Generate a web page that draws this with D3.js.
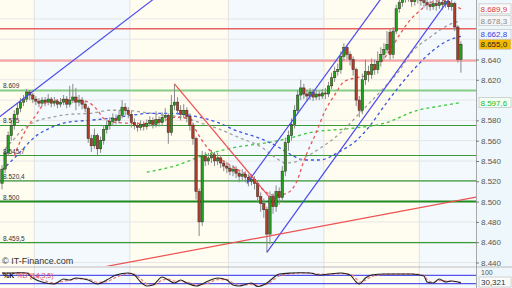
<!DOCTYPE html>
<html><head><meta charset="utf-8">
<script src="https://cdn.jsdelivr.net/npm/d3@7"></script>
<style>html,body{margin:0;padding:0;background:#fff;overflow:hidden}svg{display:block}text{font-family:"Liberation Sans",Arial,sans-serif}</style>
</head><body><svg id="c" width="512" height="288"></svg>
<script>
// ---- candle data (index 0..149) ----
const opens=[8.518,8.532,8.548,8.565,8.575,8.586,8.592,8.598,8.601,8.608,
8.605,8.601,8.599,8.597,8.600,8.598,8.601,8.597,8.599,8.596,
8.598,8.601,8.596,8.600,8.603,8.598,8.600,8.596,8.592,8.562,
8.555,8.565,8.552,8.560,8.571,8.575,8.579,8.582,8.580,8.585,
8.593,8.590,8.586,8.578,8.575,8.573,8.576,8.574,8.577,8.580,
8.576,8.581,8.578,8.583,8.585,8.568,8.595,8.598,8.590,8.586,
8.590,8.584,8.575,8.562,8.510,8.480,8.545,8.540,8.543,8.546,
8.540,8.543,8.538,8.535,8.533,8.530,8.532,8.528,8.525,8.527,
8.524,8.520,8.522,8.518,8.505,8.498,8.492,8.468,8.505,8.495,
8.510,8.504,8.530,8.558,8.565,8.576,8.590,8.605,8.612,8.606,
8.604,8.608,8.603,8.606,8.604,8.607,8.606,8.614,8.622,8.628,
8.630,8.643,8.652,8.645,8.640,8.630,8.600,8.590,8.620,8.628,
8.625,8.635,8.630,8.638,8.645,8.650,8.667,8.645,8.668,8.690,
8.696,8.700,8.704,8.702,8.697,8.699,8.701,8.698,8.696,8.694,
8.692,8.695,8.693,8.696,8.694,8.697,8.692,8.695,8.672,8.640];
const closes=[8.532,8.548,8.565,8.575,8.586,8.592,8.598,8.601,8.608,8.605,
8.601,8.599,8.597,8.600,8.598,8.601,8.597,8.599,8.596,8.598,
8.601,8.596,8.600,8.603,8.598,8.600,8.596,8.592,8.562,8.555,
8.565,8.552,8.560,8.571,8.575,8.579,8.582,8.580,8.585,8.593,
8.590,8.586,8.578,8.575,8.573,8.576,8.574,8.577,8.580,8.576,
8.581,8.578,8.583,8.585,8.568,8.595,8.598,8.590,8.586,8.590,
8.584,8.575,8.562,8.510,8.480,8.545,8.540,8.543,8.546,8.540,
8.543,8.538,8.535,8.533,8.530,8.532,8.528,8.525,8.527,8.524,
8.520,8.522,8.518,8.505,8.498,8.492,8.468,8.505,8.495,8.510,
8.504,8.530,8.558,8.565,8.576,8.590,8.605,8.612,8.606,8.604,
8.608,8.603,8.606,8.604,8.607,8.606,8.614,8.622,8.628,8.630,
8.643,8.652,8.645,8.640,8.630,8.600,8.590,8.620,8.628,8.625,
8.635,8.630,8.638,8.645,8.650,8.655,8.645,8.668,8.690,8.696,
8.700,8.704,8.702,8.697,8.699,8.701,8.698,8.696,8.694,8.692,
8.695,8.693,8.696,8.694,8.697,8.692,8.695,8.672,8.640,8.655];
const highs=[8.536,8.552,8.569,8.580,8.590,8.597,8.602,8.605,8.611,8.610,
8.607,8.604,8.602,8.603,8.603,8.606,8.603,8.603,8.601,8.602,
8.605,8.604,8.614,8.616,8.612,8.605,8.603,8.599,8.594,8.566,
8.572,8.567,8.564,8.575,8.580,8.583,8.587,8.586,8.590,8.600,
8.597,8.593,8.589,8.582,8.578,8.580,8.579,8.581,8.584,8.583,
8.589,8.584,8.588,8.592,8.587,8.605,8.616,8.603,8.595,8.596,
8.593,8.587,8.578,8.564,8.513,8.550,8.549,8.548,8.551,8.549,
8.548,8.546,8.541,8.539,8.536,8.536,8.535,8.531,8.532,8.530,
8.527,8.527,8.525,8.521,8.509,8.503,8.495,8.510,8.508,8.516,
8.514,8.535,8.563,8.570,8.582,8.595,8.610,8.620,8.616,8.610,
8.612,8.611,8.610,8.609,8.611,8.612,8.618,8.627,8.633,8.636,
8.648,8.656,8.654,8.648,8.643,8.632,8.604,8.626,8.640,8.634,
8.641,8.640,8.648,8.652,8.656,8.668,8.670,8.672,8.694,8.702,
8.706,8.709,8.708,8.705,8.704,8.706,8.704,8.702,8.700,8.698,
8.700,8.699,8.701,8.700,8.702,8.700,8.699,8.697,8.674,8.658];
const lows=[8.512,8.528,8.545,8.560,8.571,8.582,8.588,8.594,8.598,8.600,
8.597,8.595,8.593,8.594,8.594,8.595,8.593,8.594,8.592,8.593,
8.595,8.592,8.593,8.597,8.590,8.594,8.591,8.588,8.558,8.549,
8.552,8.546,8.548,8.556,8.567,8.571,8.575,8.576,8.577,8.582,
8.585,8.582,8.573,8.571,8.569,8.570,8.570,8.571,8.574,8.572,
8.573,8.574,8.575,8.579,8.557,8.565,8.590,8.586,8.580,8.582,
8.578,8.570,8.556,8.502,8.466,8.476,8.535,8.536,8.538,8.535,
8.536,8.533,8.530,8.528,8.526,8.525,8.523,8.519,8.521,8.519,
8.515,8.516,8.512,8.499,8.490,8.484,8.450,8.458,8.488,8.490,
8.497,8.500,8.525,8.550,8.560,8.572,8.586,8.600,8.601,8.599,
8.600,8.599,8.600,8.600,8.601,8.601,8.603,8.611,8.618,8.624,
8.626,8.639,8.640,8.634,8.624,8.594,8.583,8.586,8.615,8.618,
8.621,8.625,8.626,8.633,8.640,8.646,8.640,8.641,8.665,8.686,
8.692,8.696,8.697,8.692,8.693,8.695,8.693,8.691,8.689,8.688,
8.689,8.688,8.690,8.689,8.691,8.689,8.688,8.668,8.637,8.627];

// ---- moving averages: [candle index, value] ----
const maRed=[[4,8.545],[6,8.560],[8,8.572],[11,8.585],[14,8.597],[19,8.600],[25,8.600],[28,8.598],[31,8.590],[33,8.582],[37,8.578],[45,8.577],[51,8.578],[56,8.583],[61,8.582],[63,8.570],[67,8.552],[70,8.544],[74,8.536],[78,8.529],[82,8.521],[85,8.511],[89,8.506],[93,8.509],[96,8.522],[98,8.540],[102,8.568],[105,8.590],[108,8.605],[111,8.618],[115,8.622],[118,8.624],[122,8.634],[126,8.649],[129,8.664],[132,8.677],[136,8.689],[139,8.696],[144,8.698],[147,8.693],[149,8.6899]];
const maGray=[[1,8.552],[4,8.562],[7,8.572],[11,8.579],[16,8.583],[22,8.586],[29,8.587],[35,8.590],[40,8.590],[46,8.588],[53,8.585],[59,8.583],[64,8.578],[70,8.572],[77,8.563],[84,8.554],[89,8.543],[92,8.538],[95,8.539],[98,8.543],[103,8.552],[110,8.568],[117,8.590],[124,8.612],[129,8.629],[133,8.647],[139,8.662],[145,8.674],[149,8.6783]];
const maBlue=[[0,8.531],[6,8.549],[10,8.562],[16,8.573],[21,8.578],[28,8.580],[35,8.582],[42,8.585],[48,8.587],[55,8.587],[61,8.585],[70,8.578],[76,8.570],[84,8.562],[89,8.555],[94,8.546],[98,8.541],[103,8.541],[110,8.550],[115,8.560],[119,8.573],[125,8.598],[133,8.628],[140,8.649],[145,8.659],[149,8.6628]];
const maGreen=[[47,8.529],[57,8.536],[64,8.544],[75,8.553],[86,8.558],[94,8.563],[100,8.568],[113,8.572],[124,8.577],[135,8.590],[142,8.594],[149,8.5976]];

// ---- trend lines: [index, price] end points ----
const trendBlueA=[[-1,8.583],[49,8.699]];
const trendBlueUpper=[[79.5,8.518],[123,8.6996]];
const trendBlueLower=[[86,8.450],[145,8.699]];
const trendRedDown=[[56,8.616],[87,8.5036]];
const trendRedUp=[[31,8.4345],[156,8.5055]];

// ---- horizontal levels ----
const greenLevels=[8.6095,8.575,8.5454,8.5204,8.500,8.4595];
const greenLabels=["8.609","8.575","8.545,7","8.520,4","8.500","8.459,5"];
const redLevels=[8.6703,8.6388];

// ---- axis ----
const axisTicks=[8.44,8.46,8.48,8.50,8.52,8.54,8.56,8.58,8.62,8.64];
const axisLabels=["8.440","8.460","8.480","8.500","8.520","8.540","8.560","8.580","8.620","8.640"];
const gridTicks=[8.44,8.46,8.48,8.50,8.52,8.54,8.56,8.58,8.60,8.62,8.64,8.66,8.68];
const tagValues=[8.6899,8.6783,8.6628,8.6550,8.5976];
const tagLabels=["8.689,9","8.678,3","8.662,8","8.655,0","8.597,6"];

// ---- session breaks (between candle indices) ----
const sessionBreaks=[-1,10.5,41.5,73.5,104.5,135.5,156];

// ---- stochastic %K %D (14,3,5) ----
const stochIdx=[0,4,6,8,10,13,17,20,22,24,28,31,34,37,41,43,45,47,49,52,54,56,58,60,63,67,70,73,75,77,81,83,86,88,90,94,97,100,103,106,110,113,115,116,118,120,124,127,130,133,137,138,140,142,144,146,149];
const stochK=[96,96,98,96,61,32,18,54,46,61,46,18,46,82,96,82,32,4,11,68,46,25,46,25,4,39,61,46,11,4,25,0,25,61,89,96,98,96,82,89,96,82,32,18,61,82,89,89,89,89,75,32,25,54,32,39,25];
const stochD=[95,96,97,97,80,50,25,38,45,55,52,30,35,65,90,88,55,20,10,45,52,38,38,32,12,25,50,50,25,10,15,8,15,45,75,92,97,97,88,87,93,88,55,30,45,72,86,89,89,89,80,50,30,42,40,38,30];
const stochLevels=[80,20];
const stochTop="100";
const stochLast="30,321";

// ================= drawing =================
const svg=d3.select("#c");
const W=512,H=288,plotR=476,mainB=266,panT=268;
const x=d3.scaleLinear().domain([0,149]).range([2,2+3.08*149]);
const y=d3.scaleLinear().domain([8.440,8.640]).range([262.5,59.5]);
const ys=d3.scaleLinear().domain([0,100]).range([286.5,272.5]);

svg.append("rect").attr("width",W).attr("height",H).attr("fill","#ffffff");
const defs=svg.append("defs");
defs.append("clipPath").attr("id","cm").append("rect").attr("x",0).attr("y",0).attr("width",plotR).attr("height",mainB);
defs.append("clipPath").attr("id","cp").append("rect").attr("x",0).attr("y",panT).attr("width",plotR).attr("height",H-panT);
defs.append("clipPath").attr("id","cr").append("rect").attr("x",plotR).attr("y",panT).attr("width",W-plotR).attr("height",H-panT);

// bands
const bands=d3.pairs(sessionBreaks);
[[0,mainB],[panT,H]].forEach(([t,b])=>{
  svg.append("g").selectAll("rect").data(bands).join("rect")
    .attr("x",d=>Math.max(0,x(d[0]))).attr("y",t)
    .attr("width",d=>Math.min(plotR,x(d[1]))-Math.max(0,x(d[0]))).attr("height",b-t)
    .attr("fill",(d,i)=>i%2===0?"#fffcf0":"#f3f9fd");
});
// right axis background
svg.append("rect").attr("x",plotR).attr("y",0).attr("width",W-plotR).attr("height",H).attr("fill","#eef8fc");

// session vertical grid
svg.append("g").selectAll("line").data(sessionBreaks.slice(1,-1)).join("line")
  .attr("x1",d=>x(d)).attr("x2",d=>x(d)).attr("y1",0).attr("y2",H)
  .attr("stroke","#e2e2dc").attr("stroke-width",1);
// horizontal grid
svg.append("g").selectAll("line").data(gridTicks).join("line")
  .attr("x1",0).attr("x2",plotR).attr("y1",d=>y(d)).attr("y2",d=>y(d))
  .attr("stroke","#e6e6e6").attr("stroke-width",1);

const main=svg.append("g").attr("clip-path","url(#cm)");
// levels
main.selectAll(".gl").data(greenLevels).join("line")
  .attr("x1",0).attr("x2",plotR).attr("y1",d=>y(d)).attr("y2",d=>y(d))
  .attr("stroke",(d,i)=>i===0?"#86cc86":(d===8.5?"#1f8a1f":"#3a9a3a"))
  .attr("stroke-width",(d,i)=>i===0?2:(d===8.5?2:1.2));
main.selectAll(".rl").data(redLevels).join("line")
  .attr("x1",0).attr("x2",plotR).attr("y1",d=>y(d)).attr("y2",d=>y(d))
  .attr("stroke",(d,i)=>i===0?"#e86262":"#f5a5a5").attr("stroke-width",(d,i)=>i===0?1.3:2.2);

// moving averages
const ln=d3.line().x(d=>x(d[0])).y(d=>y(d[1])).curve(d3.curveMonotoneX);
[[maGreen,"#3ec83e"],[maBlue,"#3a55e0"],[maGray,"#a0a0a0"],[maRed,"#ee5555"]].forEach(([data,c])=>{
  main.append("path").attr("d",ln(data)).attr("fill","none").attr("stroke",c)
    .attr("stroke-width",1.3).attr("stroke-dasharray","3,3");
});

// candles
const idx=d3.range(closes.length);
main.append("g").selectAll("line").data(idx).join("line")
  .attr("x1",i=>x(i)).attr("x2",i=>x(i)).attr("y1",i=>y(highs[i])).attr("y2",i=>y(lows[i]))
  .attr("stroke","#8a8a8a").attr("stroke-width",1);
main.append("g").selectAll("rect").data(idx).join("rect")
  .attr("x",i=>x(i)-1.2).attr("width",2.4)
  .attr("y",i=>y(Math.max(opens[i],closes[i])))
  .attr("height",i=>Math.max(1,Math.abs(y(opens[i])-y(closes[i]))))
  .attr("fill",i=>closes[i]>=opens[i]?"#1ea21e":"#b03c2a")
  .attr("stroke","#3a2a20").attr("stroke-width",0.5);

// trend lines
const tl=d3.line().x(d=>x(d[0])).y(d=>y(d[1]));
[[trendBlueA,"#4a4aee"],[trendBlueUpper,"#4a4aee"],[trendBlueLower,"#4a4aee"],[trendRedDown,"#ee5050"],[trendRedUp,"#ee5050"]].forEach(([d,c])=>{
  main.append("path").attr("d",tl(d)).attr("fill","none").attr("stroke",c).attr("stroke-width",1.2);
});

// left level labels
svg.append("g").selectAll("text").data(greenLevels).join("text")
  .attr("x",3).attr("y",d=>y(d)-2).attr("font-size",6.5).attr("fill","#333")
  .text((d,i)=>greenLabels[i]);

// watermark
svg.append("text").attr("x",2).attr("y",264).attr("font-size",9).attr("fill","#333").text("\u00A9 IT-Finance.com");

// separators
svg.append("line").attr("x1",0).attr("x2",W).attr("y1",panT-1).attr("y2",panT-1).attr("stroke","#b8b8b8");
svg.append("line").attr("x1",plotR+0.5).attr("x2",plotR+0.5).attr("y1",0).attr("y2",H).attr("stroke","#a8a8a8");

// right axis
const ax=svg.append("g").attr("transform",`translate(${plotR},0)`)
  .call(d3.axisRight(y).tickValues(axisTicks).tickSize(3).tickPadding(2).tickFormat((d,i)=>axisLabels[i]));
ax.select(".domain").remove();
ax.selectAll("line").attr("stroke","#777");
ax.selectAll("text").attr("font-size",8).attr("fill","#555").attr("font-family","Liberation Sans, Arial, sans-serif");

// value tags with simple collision avoidance
const tagStyle=[["#fbfbfb","#e03a3a"],["#f6f6f6","#8a8a8a"],["#f4f6ff","#3344dd"],["#f5b800","#222"],["#f4fff4","#22bb22"]];
const tagY=tagValues.map(v=>y(v));
for(let k=tagY.length-2;k>=0;k--){ if(tagY[k+1]-tagY[k]<10) tagY[k]=tagY[k+1]-10; }
const tg=svg.append("g").selectAll("g").data(tagValues).join("g").attr("transform",(d,i)=>`translate(479,${tagY[i]})`);
tg.append("rect").attr("x",0).attr("y",-5).attr("width",32).attr("height",10)
  .attr("fill",(d,i)=>tagStyle[i][0]).attr("stroke","#c8c8c8").attr("stroke-width",0.8);
tg.append("text").attr("x",1.5).attr("y",3).attr("font-size",8).attr("fill",(d,i)=>tagStyle[i][1]).text((d,i)=>tagLabels[i]);

// stochastic panel
const pan=svg.append("g").attr("clip-path","url(#cp)");
pan.selectAll("line").data(stochLevels).join("line")
  .attr("x1",0).attr("x2",plotR).attr("y1",d=>ys(d)).attr("y2",d=>ys(d)).attr("stroke","#5555ee").attr("stroke-width",1.2);
const sl=d3.line().x(d=>x(d[0])).y(d=>ys(d[1])).curve(d3.curveMonotoneX);
pan.append("path").attr("d",sl(stochIdx.map((v,i)=>[v,stochD[i]]))).attr("fill","none").attr("stroke","#f08080").attr("stroke-width",1.3).attr("stroke-dasharray","3,2");
pan.append("path").attr("d",sl(stochIdx.map((v,i)=>[v,stochK[i]]))).attr("fill","none").attr("stroke","#222").attr("stroke-width",1.1);
const lab=svg.append("text").attr("x",3).attr("y",278).attr("font-size",7);
lab.append("tspan").attr("fill","#111").attr("font-weight","bold").text("%K ");
lab.append("tspan").attr("fill","#e05050").text("%D (14,3,5)");
// panel right labels
svg.append("g").attr("clip-path","url(#cr)").append("text").attr("x",481).attr("y",274.5).attr("font-size",7).attr("fill","#555").text(stochTop);
const vb=svg.append("g").attr("transform","translate(479,282)");
vb.append("rect").attr("x",0).attr("y",-5).attr("width",32).attr("height",10).attr("fill","#fbfbfb").attr("stroke","#c8c8c8").attr("stroke-width",0.8);
vb.append("text").attr("x",2).attr("y",3).attr("font-size",8).attr("fill","#333").text(stochLast);
</script></body></html>
